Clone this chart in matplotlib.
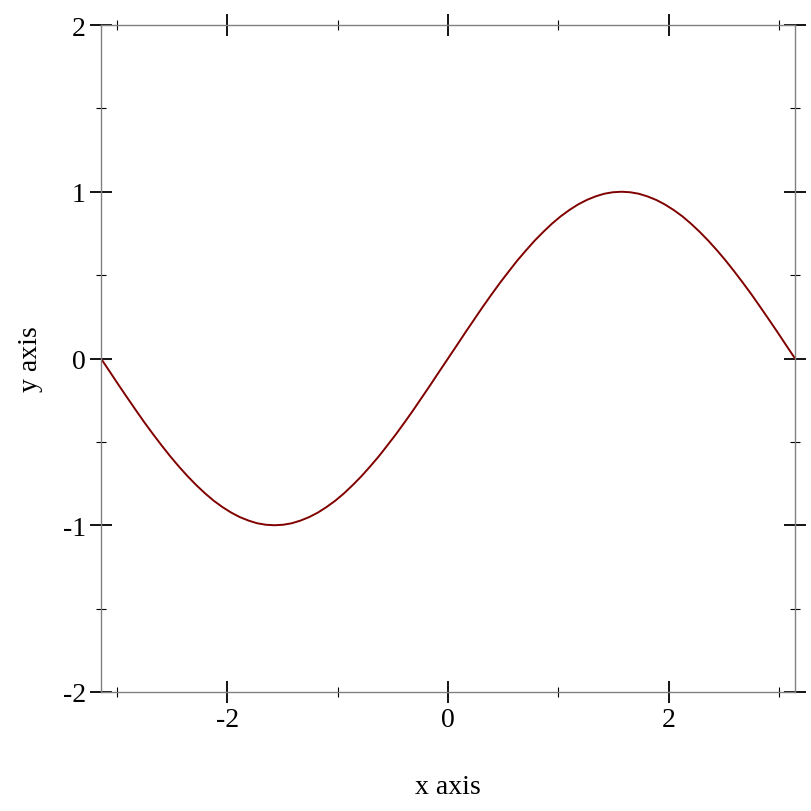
import matplotlib
matplotlib.use('Agg')
import matplotlib.pyplot as plt
from matplotlib.ticker import MultipleLocator

# points
xs = [-3.142, -3.063, -2.985, -2.906, -2.827, -2.749, -2.670, -2.592, -2.513, -2.435,
      -2.356, -2.278, -2.199, -2.121, -2.042, -1.963, -1.885, -1.806, -1.728, -1.649,
      -1.571, -1.492, -1.414, -1.335, -1.257, -1.178, -1.100, -1.021, -0.942, -0.864,
      -0.785, -0.707, -0.628, -0.550, -0.471, -0.393, -0.314, -0.236, -0.157, -0.079,
      0.000, 0.079, 0.157, 0.236, 0.314, 0.393, 0.471, 0.550, 0.628, 0.707,
      0.785, 0.864, 0.942, 1.021, 1.100, 1.178, 1.257, 1.335, 1.414, 1.492,
      1.571, 1.649, 1.728, 1.806, 1.885, 1.963, 2.042, 2.121, 2.199, 2.278,
      2.356, 2.435, 2.513, 2.592, 2.670, 2.749, 2.827, 2.906, 2.985, 3.063, 3.142]
ys = [0.000, -0.078, -0.156, -0.233, -0.309, -0.383, -0.454, -0.522, -0.588, -0.649,
      -0.707, -0.760, -0.809, -0.853, -0.891, -0.924, -0.951, -0.972, -0.988, -0.997,
      -1.000, -0.997, -0.988, -0.972, -0.951, -0.924, -0.891, -0.853, -0.809, -0.760,
      -0.707, -0.649, -0.588, -0.522, -0.454, -0.383, -0.309, -0.233, -0.156, -0.078,
      0.000, 0.078, 0.156, 0.233, 0.309, 0.383, 0.454, 0.522, 0.588, 0.649,
      0.707, 0.760, 0.809, 0.853, 0.891, 0.924, 0.951, 0.972, 0.988, 0.997,
      1.000, 0.997, 0.988, 0.972, 0.951, 0.924, 0.891, 0.853, 0.809, 0.760,
      0.707, 0.649, 0.588, 0.522, 0.454, 0.383, 0.309, 0.233, 0.156, 0.078, 0.000]
x_label = 'x axis'
y_label = 'y axis'

plt.rcParams['font.family'] = ['Liberation Serif', 'DejaVu Serif']

fig = plt.figure(figsize=(8.12, 8.12), dpi=100)
ax = fig.add_axes([101 / 812, 119 / 812, 694 / 812, 667 / 812])
ax.plot(xs, ys, color='#800000', linewidth=1.4, solid_joinstyle='round')
ax.set_xlim(-3.1416, 3.1416)
ax.set_ylim(-2, 2)

for s in ax.spines.values():
    s.set_color('#808080')
    s.set_linewidth(1.0)

ax.xaxis.set_major_locator(MultipleLocator(2))
ax.xaxis.set_minor_locator(MultipleLocator(1))
ax.yaxis.set_major_locator(MultipleLocator(1))
ax.yaxis.set_minor_locator(MultipleLocator(0.5))
ax.tick_params(which='both', direction='inout', top=True, right=True,
               labeltop=False, labelright=False, color='black')
ax.tick_params(which='major', length=16, width=1.3, labelsize=20, pad=3)
ax.tick_params(which='minor', length=7, width=0.8)
ax.xaxis.set_major_formatter(plt.FuncFormatter(lambda v, p: '%d' % round(v)))
ax.yaxis.set_major_formatter(plt.FuncFormatter(lambda v, p: '%d' % round(v)))

ax.set_xlabel(x_label, fontsize=20, labelpad=30)
ax.set_ylabel(y_label, fontsize=20, labelpad=14)

fig.savefig('out.png', dpi=100)
